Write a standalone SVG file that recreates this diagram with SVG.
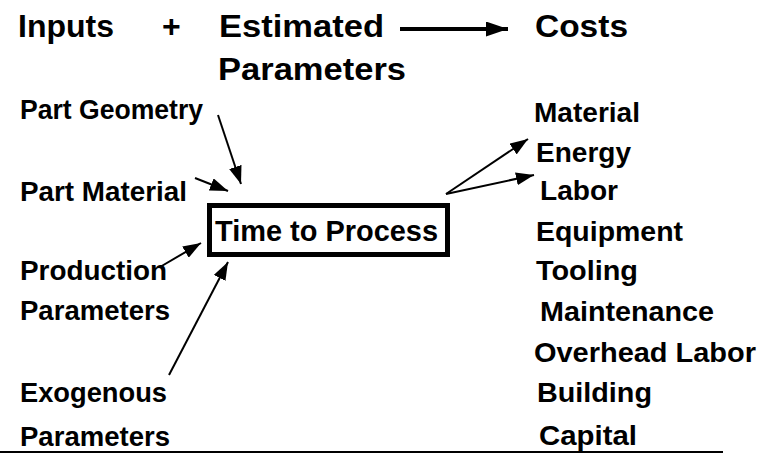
<svg xmlns="http://www.w3.org/2000/svg" width="761" height="456" viewBox="0 0 761 456">
<style>
text{font-family:"Liberation Sans",Arial,sans-serif;font-weight:bold;fill:#000}
.t{font-size:32px}
.l{font-size:27.5px}
.b{font-size:30px}
.c{stroke:#000;stroke-width:2;fill:none}
</style>
<defs>
<marker id="ah" viewBox="0 0 18 13" refX="18" refY="6.5" markerWidth="18" markerHeight="13" markerUnits="userSpaceOnUse" orient="auto">
<path d="M0,0 L18,6.5 L0,13 z" fill="#000"/>
</marker>
<marker id="ahs" viewBox="0 0 22 15" refX="22" refY="7.5" markerWidth="22" markerHeight="15" markerUnits="userSpaceOnUse" orient="auto">
<path d="M0,0 L22,7.5 L0,15 z" fill="#000"/>
</marker>
</defs>
<rect width="761" height="456" fill="#fff"/>
<g id="title">
<text class="t" x="18" y="37" textLength="96" lengthAdjust="spacingAndGlyphs">Inputs</text>
<text class="t" x="162" y="37">+</text>
<text class="t" x="219" y="37" textLength="165" lengthAdjust="spacingAndGlyphs">Estimated</text>
<text class="t" x="218" y="80" textLength="188" lengthAdjust="spacingAndGlyphs">Parameters</text>
<text class="t" x="535" y="37" textLength="93" lengthAdjust="spacingAndGlyphs">Costs</text>
</g>
<g id="inputs">
<text class="l" x="20" y="119" textLength="183" lengthAdjust="spacingAndGlyphs">Part Geometry</text>
<text class="l" x="20" y="201" textLength="167" lengthAdjust="spacingAndGlyphs">Part Material</text>
<text class="l" x="20" y="280" textLength="147" lengthAdjust="spacingAndGlyphs">Production</text>
<text class="l" x="20" y="320" textLength="150" lengthAdjust="spacingAndGlyphs">Parameters</text>
<text class="l" x="20" y="402" textLength="147" lengthAdjust="spacingAndGlyphs">Exogenous</text>
<text class="l" x="20" y="446" textLength="150" lengthAdjust="spacingAndGlyphs">Parameters</text>
</g>
<g id="process">
<rect x="209.5" y="205.5" width="238" height="49" fill="#fff" stroke="#000" stroke-width="5"/>
<text class="b" x="215" y="241" textLength="223" lengthAdjust="spacingAndGlyphs">Time to Process</text>
</g>
<g id="costs">
<text class="l" x="534" y="122" textLength="106" lengthAdjust="spacingAndGlyphs">Material</text>
<text class="l" x="536" y="162" textLength="95" lengthAdjust="spacingAndGlyphs">Energy</text>
<text class="l" x="540" y="200" textLength="78" lengthAdjust="spacingAndGlyphs">Labor</text>
<text class="l" x="536" y="241" textLength="147" lengthAdjust="spacingAndGlyphs">Equipment</text>
<text class="l" x="536" y="280" textLength="102" lengthAdjust="spacingAndGlyphs">Tooling</text>
<text class="l" x="540" y="321" textLength="174" lengthAdjust="spacingAndGlyphs">Maintenance</text>
<text class="l" x="534" y="362" textLength="222" lengthAdjust="spacingAndGlyphs">Overhead Labor</text>
<text class="l" x="537" y="402" textLength="115" lengthAdjust="spacingAndGlyphs">Building</text>
<text class="l" x="539" y="445" textLength="98" lengthAdjust="spacingAndGlyphs">Capital</text>
</g>
<g id="connectors">
<line x1="400" y1="29" x2="508" y2="29" stroke="#000" stroke-width="4" marker-end="url(#ahs)"/>
<line class="c" x1="218" y1="115" x2="241" y2="184" marker-end="url(#ah)"/>
<line class="c" x1="195" y1="178" x2="228" y2="191" marker-end="url(#ah)"/>
<line class="c" x1="160" y1="267" x2="201" y2="243" marker-end="url(#ah)"/>
<line class="c" x1="169" y1="375" x2="228" y2="262" marker-end="url(#ah)"/>
<line class="c" x1="446" y1="194" x2="528" y2="139" marker-end="url(#ah)"/>
<line class="c" x1="446" y1="194" x2="534" y2="175" marker-end="url(#ah)"/>
<line x1="0" y1="452" x2="723" y2="452" stroke="#000" stroke-width="2"/>
</g>
</svg>
